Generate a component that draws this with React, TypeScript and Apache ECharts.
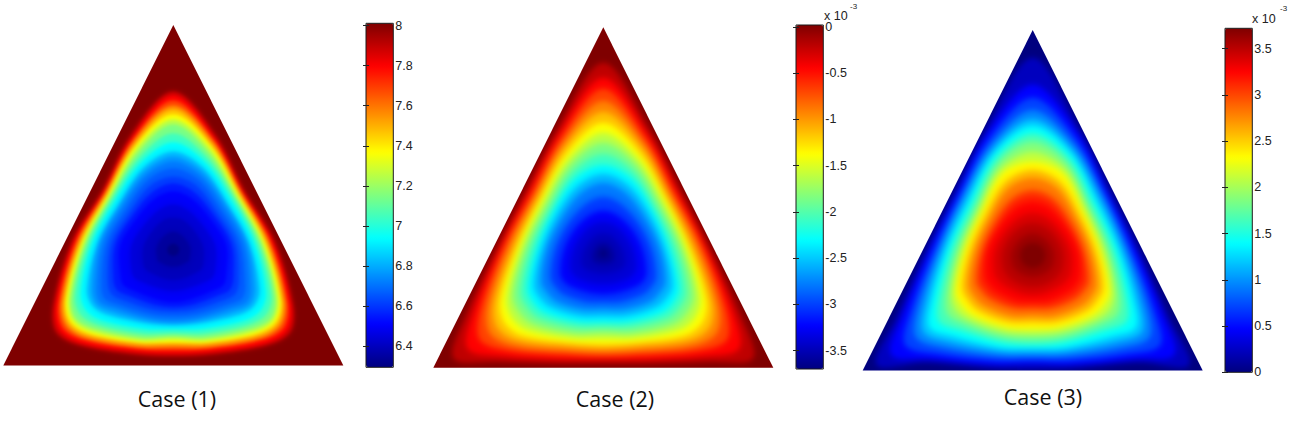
import React, { useEffect, useRef } from "react";
import * as echarts from "echarts";

// Ray directions (degrees clockwise from straight up) along which the contour radii were read.
const rayAngles = [0, 20, 50, 85, 115, 125, 135, 160, 180];

// Colour scale
const jetColors = ["#00007f", "#0000ff", "#007fff", "#00ffff", "#7fff7f", "#ffff00", "#ff7f00", "#ff0000", "#7f0000"];

// Case (1)
const case1Range = [6.293, 8.012];
const case1Edge = 8.012;
const case1Levels = [7.9, 7.8, 7.69, 7.58, 7.47, 7.37, 7.26, 7.15, 7.05, 6.94, 6.83, 6.77, 6.72, 6.67, 6.62, 6.56, 6.51, 6.45, 6.4, 6.35, 6.3];
const case1Radii = [
  [158, 122, 92, 101, 132, 143, 134, 111, 106],
  [154, 119, 90, 99, 129, 139, 131, 108, 103],
  [149, 117, 89, 97, 126, 135, 127, 105, 100],
  [144, 115, 88, 95, 123, 131, 124, 103, 97],
  [140, 112, 86, 93, 120, 128, 121, 100, 94],
  [135, 110, 85, 91, 118, 125, 118, 98, 92],
  [130, 107, 83, 89, 115, 122, 115, 96, 89],
  [125, 103, 81, 87, 112, 119, 111, 93, 86],
  [116, 98, 79, 84, 108, 113, 106, 89, 83],
  [107, 93, 76, 81, 102, 106, 100, 84, 79],
  [98, 87, 71, 76, 95, 98, 92, 78, 75],
  [93, 83, 69, 74, 90, 94, 87, 75, 73],
  [88, 79, 66, 71, 85, 90, 82, 72, 70],
  [81, 74, 62, 67, 79, 84, 77, 68, 66],
  [73, 68, 57, 62, 72, 76, 71, 63, 61],
  [66, 61, 53, 58, 66, 69, 64, 58, 57],
  [58, 54, 48, 53, 58, 61, 57, 52, 52],
  [45, 42, 38, 42, 46, 48, 45, 41, 41],
  [32, 31, 28, 30, 33, 34, 32, 30, 30],
  [18, 17, 16, 17, 18, 19, 18, 17, 17],
  [6, 6, 6, 6, 6, 6, 6, 6, 6],
];
const case1Ticks = [6.4, 6.6, 6.8, 7, 7.2, 7.4, 7.6, 7.8, 8];

// Case (2)
const case2Range = [-3.7, 0.02];
const case2Edge = 0.02;
const case2Levels = [-0.21, -0.44, -0.68, -0.91, -1.14, -1.38, -1.61, -1.84, -2.07, -2.31, -2.54, -2.77, -3.0, -3.24, -3.37, -3.47, -3.59, -3.7];
const case2Radii = [
  [190, 132, 99, 104, 152, 182, 152, 116, 109],
  [175, 127, 96, 101, 143, 165, 144, 112, 105],
  [164, 122, 92, 98, 135, 150, 136, 107, 102],
  [152, 117, 89, 94, 127, 138, 129, 103, 98],
  [141, 112, 85, 89, 120, 129, 122, 98, 94],
  [130, 106, 82, 85, 113, 120, 115, 94, 90],
  [120, 100, 78, 81, 106, 111, 107, 89, 84],
  [110, 94, 74, 77, 99, 102, 99, 84, 78],
  [99, 87, 69, 72, 91, 93, 91, 78, 73],
  [88, 80, 65, 66, 83, 85, 83, 72, 68],
  [79, 72, 60, 61, 76, 77, 75, 66, 62],
  [70, 64, 54, 56, 68, 68, 67, 59, 55],
  [56, 52, 46, 48, 58, 58, 57, 51, 48],
  [42, 40, 37, 39, 47, 48, 46, 41, 40],
  [31, 30, 28, 30, 36, 36, 35, 31, 30],
  [20, 20, 18, 20, 24, 24, 23, 20, 20],
  [10, 10, 9, 10, 12, 12, 12, 10, 10],
  [4, 4, 4, 4, 4, 4, 4, 4, 4],
];
const case2Ticks = [-3.5, -3, -2.5, -2, -1.5, -1, -0.5, 0];

// Case (3)
const case3Range = [0, 3.72];
const case3Edge = 0;
const case3Levels = [0.23, 0.47, 0.7, 0.93, 1.16, 1.4, 1.63, 1.86, 2.09, 2.33, 2.56, 2.79, 3.02, 3.14, 3.26, 3.38, 3.49, 3.6, 3.72];
const case3Radii = [
  [197, 134, 100, 104, 150, 190, 150, 119, 113],
  [170, 130, 97, 101, 143, 172, 145, 115, 107],
  [157, 124, 94, 97, 134, 155, 138, 111, 104],
  [145, 118, 91, 93, 126, 142, 129, 106, 100],
  [136, 113, 87, 89, 118, 133, 121, 101, 96],
  [129, 109, 83, 85, 111, 125, 113, 97, 92],
  [121, 103, 78, 80, 103, 114, 104, 91, 88],
  [113, 98, 73, 75, 95, 103, 96, 86, 83],
  [103, 92, 70, 71, 89, 94, 90, 81, 78],
  [93, 87, 66, 67, 84, 86, 84, 76, 73],
  [85, 78, 61, 62, 77, 78, 77, 70, 66],
  [77, 71, 56, 57, 70, 71, 70, 64, 60],
  [65, 60, 50, 51, 62, 62, 61, 56, 53],
  [59, 55, 46, 48, 57, 57, 56, 52, 49],
  [52, 49, 43, 45, 51, 51, 50, 47, 45],
  [42, 40, 36, 38, 42, 42, 41, 39, 39],
  [32, 31, 29, 30, 32, 32, 32, 31, 31],
  [22, 21, 20, 21, 22, 22, 22, 21, 21],
  [12, 12, 12, 12, 12, 12, 12, 12, 12],
];
const case3Ticks = [0, 0.5, 1, 1.5, 2, 2.5, 3, 3.5];

const panels = [
  { caption: "Case (1)", capX: 177, capY: 398, range: case1Range, edge: case1Edge, levels: case1Levels, radii: case1Radii, ticks: case1Ticks, left: 3.3, top: 25, cy: 115.7, bar: [366, 23.3], exp: null, soften: 1.6 },
  { caption: "Case (2)", capX: 615, capY: 398, range: case2Range, edge: case2Edge, levels: case2Levels, radii: case2Radii, ticks: case2Ticks, left: 433.3, top: 27.3, cy: 114.3, bar: [796, 25], exp: [824, 15.5, 850, 6], soften: 2.8 },
  { caption: "Case (3)", capX: 1043, capY: 396, range: case3Range, edge: case3Edge, levels: case3Levels, radii: case3Radii, ticks: case3Ticks, left: 862.7, top: 30, cy: 115, bar: [1225, 28.3], exp: [1252, 19, 1280, 8], soften: 2.8 },
];

const HALF = 170;
const HEIGHT = 340.5;
const BLEED = 30; // the fill runs past the triangle; the wrapper's clip gives the crisp edge
const BAR_W = 27.3;
const BAR_H = 344;
const LABEL_FONT = "Liberation Sans, Arial, sans-serif";

const triangleClip = (p: any) =>
  `path("M${p.left + HALF} ${p.top}L${p.left + 2 * HALF} ${p.top + HEIGHT}L${p.left} ${p.top + HEIGHT}Z")`;

export default function App() {
  const fieldRefs = useRef<(HTMLDivElement | null)[]>([]);
  const frontRef = useRef<HTMLDivElement>(null);
  useEffect(() => {
    document.body.style.margin = "0";

    // Layer 1: one chart per triangular field
    const fields = panels.map((p, i) => {
      const chart = echarts.init(fieldRefs.current[i]!, null, { renderer: "svg" });
      chart.setOption({
        animation: false,
        grid: { left: p.left, top: p.top, width: HALF * 2, height: HEIGHT },
        xAxis: { type: "value", min: -HALF, max: HALF, show: false },
        yAxis: { type: "value", min: 0, max: HEIGHT, show: false },
        visualMap: {
          type: "continuous",
          show: false,
          dimension: 0,
          min: p.range[0],
          max: p.range[1],
          inRange: { color: jetColors },
        },
        series: [
          {
            type: "custom",
            coordinateSystem: "cartesian2d",
            clip: false,
            silent: true,
            z: 2,
            data: [[p.edge, 0]],
            renderItem: (_: any, api: any) => ({
              type: "polygon",
              shape: {
                points: [
                  api.coord([0, HEIGHT + BLEED * 2]),
                  api.coord([HALF + BLEED * 2, -BLEED]),
                  api.coord([-HALF - BLEED * 2, -BLEED]),
                ],
              },
              style: { fill: api.visual("color") },
            }),
          },
          {
            type: "custom",
            coordinateSystem: "cartesian2d",
            clip: false,
            silent: true,
            z: 3,
            data: p.levels.map((v, k) => [v, ...p.radii[k]]),
            renderItem: (params: any, api: any) => {
              const pts: number[][] = [];
              const at = (a: number, r: number, side: number) => {
                const th = (a * Math.PI) / 180;
                return api.coord([side * r * Math.sin(th), p.cy + r * Math.cos(th)]);
              };
              rayAngles.forEach((a, j) => pts.push(at(a, api.value(j + 1), 1)));
              for (let j = rayAngles.length - 2; j > 0; j--) pts.push(at(rayAngles[j], api.value(j + 1), -1));
              const k = params.dataIndex;
              let gap = 4;
              if (k > 0) {
                const cur = p.radii[k];
                const prev = p.radii[k - 1];
                gap = Math.min(...cur.map((r, j) => prev[j] - r)) + 2;
              }
              const c = api.visual("color");
              return {
                type: "polygon",
                shape: { points: pts, smooth: 0.33 },
                style: { fill: c, shadowBlur: Math.max(2, Math.min(16, gap * 1.2)), shadowColor: c },
              };
            },
          },
        ],
      });
      return chart;
    });

    // Layer 2: colour bars, their axes, captions
    const front = echarts.init(frontRef.current!, null, { renderer: "svg" });
    const grid: any[] = [];
    const xAxis: any[] = [];
    const yAxis: any[] = [];
    const visualMap: any[] = [];
    const graphic: any[] = [];

    panels.forEach((p, g) => {
      visualMap.push({
        type: "continuous",
        seriesIndex: [],
        dimension: 0,
        min: p.range[0],
        max: p.range[1],
        inRange: { color: jetColors },
        left: p.bar[0],
        top: p.bar[1],
        itemWidth: BAR_W,
        itemHeight: BAR_H,
        padding: 0,
        calculable: false,
        hoverLink: false,
        text: null,
        z: 4,
      });
      graphic.push({
        type: "text",
        x: p.capX,
        y: p.capY,
        style: { text: p.caption, fill: "#111", font: '21.5px "Open Sans", sans-serif', textAlign: "center", textVerticalAlign: "middle" },
      });
      if (p.exp) {
        graphic.push({
          type: "text",
          x: p.exp[0],
          y: p.exp[1],
          style: { text: "x 10", fill: "#222", font: `12.5px ${LABEL_FONT}`, textVerticalAlign: "middle" },
        });
        graphic.push({
          type: "text",
          x: p.exp[2],
          y: p.exp[3],
          style: { text: "-3", fill: "#222", font: `8px ${LABEL_FONT}`, textVerticalAlign: "middle" },
        });
      }
      grid.push({
        left: p.bar[0],
        top: p.bar[1],
        width: BAR_W,
        height: BAR_H,
        show: true,
        backgroundColor: "transparent",
        borderColor: "#1a1a1a",
        borderWidth: 1,
        z: 6,
      });
      xAxis.push({ gridIndex: g, type: "value", min: 0, max: 1, show: false });
      const base = {
        gridIndex: g,
        type: "value",
        min: p.range[0],
        max: p.range[1],
        z: 7,
        splitLine: { show: false },
        axisLine: { show: false },
      };
      yAxis.push({
        ...base,
        position: "right",
        axisTick: { show: true, inside: true, length: 3, customValues: p.ticks, lineStyle: { color: "#222", width: 1 } },
        axisLabel: { show: true, margin: 2, customValues: p.ticks, color: "#222", fontSize: 12.5, fontFamily: LABEL_FONT },
      });
      yAxis.push({
        ...base,
        position: "left",
        axisTick: { show: true, inside: true, length: 3, customValues: p.ticks, lineStyle: { color: "#222", width: 1 } },
        axisLabel: { show: false },
      });
    });
    front.setOption({ animation: false, grid, xAxis, yAxis, visualMap, graphic });

    return () => {
      fields.forEach((c) => c.dispose());
      front.dispose();
    };
  }, []);
  const full: React.CSSProperties = { position: "absolute", left: 0, top: 0, width: 1300, height: 422 };
  return (
    <div style={{ ...full, background: "#ffffff", overflow: "hidden" }}>
      {panels.map((p, i) => (
        <div key={p.caption} style={{ ...full, clipPath: triangleClip(p) }}>
          <div
            ref={(el) => {
              fieldRefs.current[i] = el;
            }}
            style={{ ...full, filter: `blur(${p.soften}px)` }}
          />
        </div>
      ))}
      <div ref={frontRef} style={full} />
    </div>
  );
}
